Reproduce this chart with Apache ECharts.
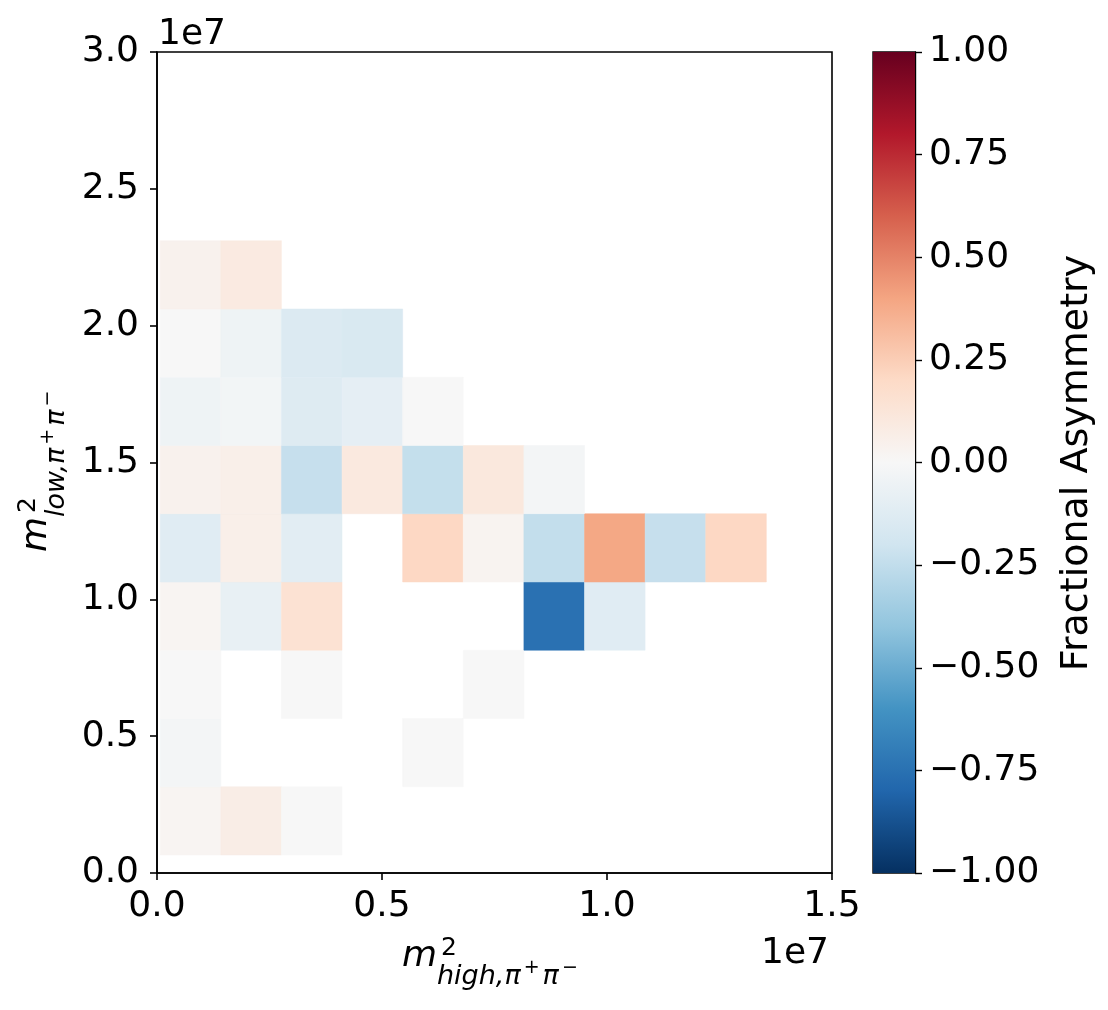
<!DOCTYPE html>
<html>
<head>
<meta charset="utf-8">
<script src="https://cdn.jsdelivr.net/npm/echarts@6/dist/echarts.min.js"></script>
<style>
  html, body { margin: 0; padding: 0; background: #fff; }
  #chart { width: 1108px; height: 1010px; }
</style>
</head>
<body>
<div id="chart"></div>
<script>
// Bin edges (raw units)
const xEdges = [71000, 1418000, 2765000, 4112000, 5459000, 6806000, 8153000, 9500000, 10847000, 12194000, 13541000];
const yEdges = [658000, 3152000, 5646000, 8140000, 10634000, 13128000, 15622000, 18116000, 20610000, 23104000];

// Fractional asymmetry per bin, rows from bottom to top, columns left to right (null = empty bin)
const row0 = [0.02, 0.07, 0.0, null, null, null, null, null, null, null];
const row1 = [-0.02, null, null, null, 0.0, null, null, null, null, null];
const row2 = [0.0, null, 0.0, null, null, 0.0, null, null, null, null];
const row3 = [0.02, -0.08, 0.15, null, null, null, -0.75, -0.12, null, null];
const row4 = [-0.12, 0.06, -0.11, null, 0.21, 0.03, -0.245, 0.39, -0.235, 0.21];
const row5 = [0.04, 0.06, -0.235, 0.10, -0.24, 0.11, -0.02, null, null, null];
const row6 = [-0.05, -0.025, -0.13, -0.095, 0.0, null, null, null, null, null];
const row7 = [0.0, -0.05, -0.14, -0.16, null, null, null, null, null, null];
const row8 = [0.04, 0.09, null, null, null, null, null, null, null, null];
const rows = [row0, row1, row2, row3, row4, row5, row6, row7, row8];

// Axis ticks
const xTicks = [0, 5e6, 1e7, 1.5e7];
const yTicks = [0, 5e6, 1e7, 1.5e7, 2e7, 2.5e7, 3e7];
const cbTicks = [-1, -0.75, -0.5, -0.25, 0, 0.25, 0.5, 0.75, 1];

// RdBu_r colormap anchors (from -1 to 1)
const cmap = ['#053061', '#2166ac', '#4393c3', '#92c5de', '#d1e5f0', '#f7f7f7',
              '#fddbc7', '#f4a582', '#d6604d', '#b2182b', '#67001f'];

const cells = [];
rows.forEach(function (row, r) {
  row.forEach(function (v, c) {
    if (v !== null) cells.push([xEdges[c], xEdges[c + 1], yEdges[r], yEdges[r + 1], v]);
  });
});

const FONT = 'DejaVu Sans';
const TICK_FS = 36;

function mathLabel(x, y, rot, sub) {
  return {
    type: 'group', x: x, y: y, rotation: rot,
    children: [
      { type: 'text', x: 0, y: -11, style: { text: 'm', fontFamily: FONT, fontStyle: 'italic', fontSize: 36, fill: '#000', verticalAlign: 'middle', align: 'left' } },
      { type: 'text', x: 39, y: -20, style: { text: '2', fontFamily: FONT, fontSize: 25, fill: '#000', verticalAlign: 'middle', align: 'left' } },
      { type: 'text', x: 35, y: 9, style: {
          text: '{s|' + sub + ',π}{p|+}{s|π}{p|−}', fontFamily: FONT, fill: '#000', verticalAlign: 'middle', align: 'left',
          rich: {
            s: { fontFamily: FONT, fontStyle: 'italic', fontSize: 27, lineHeight: 36, fill: '#000' },
            p: { fontFamily: FONT, fontSize: 19, lineHeight: 19, verticalAlign: 'top', fill: '#000', padding: [0, 3, 0, 3] }
          } } }
    ]
  };
}

const chart = echarts.init(document.getElementById('chart'), null, { renderer: 'canvas' });
const cbStops = cmap.slice().reverse().map(function (c, i) { return { offset: i / (cmap.length - 1), color: c }; });

chart.setOption({
  animation: false,
  backgroundColor: '#fff',
  grid: [
    { left: 157, top: 52, width: 675, height: 821, show: true, borderColor: '#000', borderWidth: 1.6, backgroundColor: 'transparent' },
    { left: 873, top: 52, width: 42, height: 821, show: true, borderColor: '#000', borderWidth: 1.4, backgroundColor: 'transparent' }
  ],
  xAxis: [
    { type: 'value', gridIndex: 0, min: 0, max: 1.5e7, interval: 5e6,
      axisLine: { show: true, onZero: false, lineStyle: { color: '#000', width: 1.6 } },
      axisTick: { show: true, inside: false, length: 7, lineStyle: { color: '#000', width: 1.6 } },
      axisLabel: { margin: 16, fontFamily: FONT, fontSize: TICK_FS, color: '#000',
        formatter: function (v) { return (v / 1e7).toFixed(1); } },
      splitLine: { show: false } },
    { type: 'value', gridIndex: 1, min: 0, max: 1, show: false }
  ],
  yAxis: [
    { type: 'value', gridIndex: 0, min: 0, max: 3e7, interval: 5e6,
      axisLine: { show: true, onZero: false, lineStyle: { color: '#000', width: 1.6 } },
      axisTick: { show: true, inside: false, length: 7, lineStyle: { color: '#000', width: 1.6 } },
      axisLabel: { margin: 18, fontFamily: FONT, fontSize: TICK_FS, color: '#000',
        formatter: function (v) { return (v / 1e7).toFixed(1); } },
      splitLine: { show: false } },
    { type: 'value', gridIndex: 1, min: -1, max: 1, interval: 0.25, position: 'right',
      axisLine: { show: true, onZero: false, lineStyle: { color: '#000', width: 1.4 } },
      axisTick: { show: true, inside: false, length: 7, lineStyle: { color: '#000', width: 1.4 } },
      axisLabel: { margin: 14, fontFamily: FONT, fontSize: TICK_FS, color: '#000',
        formatter: function (v) { return (v < 0 ? '−' : '') + Math.abs(v).toFixed(2); } },
      splitLine: { show: false } }
  ],
  visualMap: {
    type: 'continuous', show: false, min: -1, max: 1, dimension: 4, seriesIndex: 0,
    inRange: { color: cmap }
  },
  series: [
    {
      type: 'custom', xAxisIndex: 0, yAxisIndex: 0, z: 1,
      encode: { x: [0, 1], y: [2, 3] },
      data: cells,
      renderItem: function (params, api) {
        const p0 = api.coord([api.value(0), api.value(3)]);
        const p1 = api.coord([api.value(1), api.value(2)]);
        return { type: 'rect', shape: { x: p0[0], y: p0[1], width: p1[0] - p0[0], height: p1[1] - p0[1] },
                 style: { fill: api.visual('color'), stroke: api.visual('color'), lineWidth: 0.5 } };
      }
    },
    {
      type: 'custom', xAxisIndex: 1, yAxisIndex: 1, z: 1,
      encode: { x: [0, 1], y: [2, 3] },
      data: [[0, 1, cbTicks[0], cbTicks[cbTicks.length - 1]]],
      renderItem: function (params, api) {
        const p0 = api.coord([api.value(0), api.value(3)]);
        const p1 = api.coord([api.value(1), api.value(2)]);
        return { type: 'rect', shape: { x: p0[0], y: p0[1], width: p1[0] - p0[0], height: p1[1] - p0[1] },
                 style: { fill: new echarts.graphic.LinearGradient(0, 0, 0, 1, cbStops) } };
      }
    }
  ],
  graphic: [
    { type: 'text', x: 158, y: 35, style: { text: '1e7', fontFamily: FONT, fontSize: TICK_FS, fill: '#000', align: 'left', verticalAlign: 'middle' } },
    { type: 'text', x: 829, y: 954, style: { text: '1e7', fontFamily: FONT, fontSize: TICK_FS, fill: '#000', align: 'right', verticalAlign: 'middle' } },
    { type: 'text', x: 1077, y: 463, rotation: Math.PI / 2, style: { text: 'Fractional Asymmetry', fontFamily: FONT, fontSize: 38, fill: '#000', align: 'center', verticalAlign: 'middle' } },
    mathLabel(402, 968, 0, 'high'),
    mathLabel(48, 552, Math.PI / 2, 'low')
  ]
});
</script>
</body>
</html>
